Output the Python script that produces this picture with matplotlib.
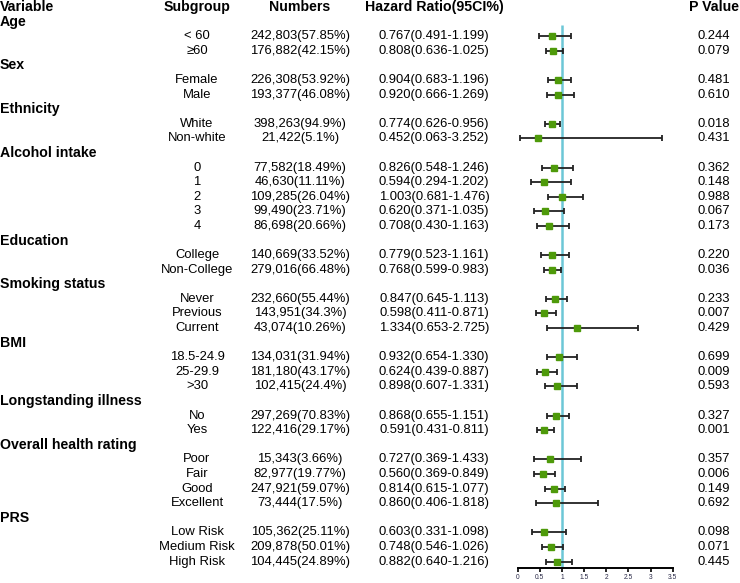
import matplotlib
matplotlib.use("Agg")
import matplotlib.pyplot as plt

plt.rcParams['font.family'] = ['Liberation Sans', 'DejaVu Sans']

groups = ["Age", "Sex", "Ethnicity", "Alcohol intake", "Education",
          "Smoking status", "BMI", "Longstanding illness",
          "Overall health rating", "PRS"]
subgroups = [
    ["< 60", "≥60"],
    ["Female", "Male"],
    ["White", "Non-white"],
    ["0", "1", "2", "3", "4"],
    ["College", "Non-College"],
    ["Never", "Previous", "Current"],
    ["18.5-24.9", "25-29.9", ">30"],
    ["No", "Yes"],
    ["Poor", "Fair", "Good", "Excellent"],
    ["Low Risk", "Medium Risk", "High Risk"],
]
numbers = [
    ["242,803(57.85%)", "176,882(42.15%)"],
    ["226,308(53.92%)", "193,377(46.08%)"],
    ["398,263(94.9%)", "21,422(5.1%)"],
    ["77,582(18.49%)", "46,630(11.11%)", "109,285(26.04%)", "99,490(23.71%)", "86,698(20.66%)"],
    ["140,669(33.52%)", "279,016(66.48%)"],
    ["232,660(55.44%)", "143,951(34.3%)", "43,074(10.26%)"],
    ["134,031(31.94%)", "181,180(43.17%)", "102,415(24.4%)"],
    ["297,269(70.83%)", "122,416(29.17%)"],
    ["15,343(3.66%)", "82,977(19.77%)", "247,921(59.07%)", "73,444(17.5%)"],
    ["105,362(25.11%)", "209,878(50.01%)", "104,445(24.89%)"],
]
hr = [
    [0.767, 0.808], [0.904, 0.920], [0.774, 0.452],
    [0.826, 0.594, 1.003, 0.620, 0.708], [0.779, 0.768],
    [0.847, 0.598, 1.334], [0.932, 0.624, 0.898], [0.868, 0.591],
    [0.727, 0.560, 0.814, 0.860], [0.603, 0.748, 0.882],
]
lo = [
    [0.491, 0.636], [0.683, 0.666], [0.626, 0.063],
    [0.548, 0.294, 0.681, 0.371, 0.430], [0.523, 0.599],
    [0.645, 0.411, 0.653], [0.654, 0.439, 0.607], [0.655, 0.431],
    [0.369, 0.369, 0.615, 0.406], [0.331, 0.546, 0.640],
]
hi = [
    [1.199, 1.025], [1.196, 1.269], [0.956, 3.252],
    [1.246, 1.202, 1.476, 1.035, 1.163], [1.161, 0.983],
    [1.113, 0.871, 2.725], [1.330, 0.887, 1.331], [1.151, 0.811],
    [1.433, 0.849, 1.077, 1.818], [1.098, 1.026, 1.216],
]
pvals = [
    ["0.244", "0.079"], ["0.481", "0.610"], ["0.018", "0.431"],
    ["0.362", "0.148", "0.988", "0.067", "0.173"], ["0.220", "0.036"],
    ["0.233", "0.007", "0.429"], ["0.699", "0.009", "0.593"],
    ["0.327", "0.001"], ["0.357", "0.006", "0.149", "0.692"],
    ["0.098", "0.071", "0.445"],
]
headers = ["Variable", "Subgroup", "Numbers", "Hazard Ratio(95CI%)", "P Value"]
xticks = [0, 0.5, 1, 1.5, 2, 2.5, 3, 3.5]

W, H = 740, 583
fig = plt.figure(figsize=(W / 100, H / 100), dpi=100)

row0 = 7.1      # pixel y of header row
rstep = 14.59   # pixel per row
axis_px = 567.8

def px2row(p):
    return (p - row0) / rstep

# text layer
axt = fig.add_axes([0, 0, 1, 1])
axt.set_xlim(0, W)
axt.set_ylim(px2row(H), px2row(0))
axt.axis('off')

col_x = [0, 197, 300, 434, 714]
fs = 9.4
fsb = 10.2
for j, h in enumerate(headers):
    axt.text(col_x[j], 0, h, ha='left' if j == 0 else 'center', va='center',
             fontsize=fsb, fontweight='bold')

rows_y = []
rows_hr, rows_lo, rows_hi = [], [], []
r = 1
for g, subs, nums, hs, ls, us, ps in zip(groups, subgroups, numbers, hr, lo, hi, pvals):
    axt.text(0, r, g, ha='left', va='center', fontsize=fsb, fontweight='bold')
    r += 1
    for s, n, h_, l_, u_, p_ in zip(subs, nums, hs, ls, us, ps):
        axt.text(col_x[1], r, s, ha='center', va='center', fontsize=fs)
        axt.text(col_x[2], r, n, ha='center', va='center', fontsize=fs)
        axt.text(col_x[3], r, f"{h_:.3f}({l_:.3f}-{u_:.3f})", ha='center', va='center', fontsize=fs)
        axt.text(col_x[4], r, p_, ha='center', va='center', fontsize=fs)
        rows_y.append(r)
        rows_hr.append(h_)
        rows_lo.append(l_)
        rows_hi.append(u_)
        r += 1

# forest layer
x0_px, x35_px = 517.7, 672.7
ax = fig.add_axes([x0_px / W, (H - axis_px) / H, (x35_px - x0_px) / W, axis_px / H])
ax.patch.set_alpha(0)
ax.set_xlim(0, 3.5)
ax.set_ylim(px2row(axis_px), px2row(0))
for sp in ['top', 'left', 'right']:
    ax.spines[sp].set_visible(False)
ax.spines['bottom'].set_linewidth(1.4)
ax.set_yticks([])
ax.set_xticks(xticks)
ax.set_xticklabels([f"{t:g}" for t in xticks], fontsize=4.8, color='#2a2a48')
ax.tick_params(axis='x', length=3.2, width=1.2, pad=1.5)

ax.vlines(1, px2row(25), px2row(axis_px), color='#6cc7d6', linewidth=1.8, zorder=1)

xerr = [[h - l for h, l in zip(rows_hr, rows_lo)], [u - h for h, u in zip(rows_hr, rows_hi)]]
ax.errorbar(rows_hr, rows_y, xerr=xerr, fmt='none', ecolor='#222222',
            elinewidth=1.3, capsize=1.9, capthick=1.3, zorder=2)
ax.plot(rows_hr, rows_y, 's', color='#4e9a0a', markersize=4.4, zorder=3)

fig.savefig("out.png", dpi=100)
